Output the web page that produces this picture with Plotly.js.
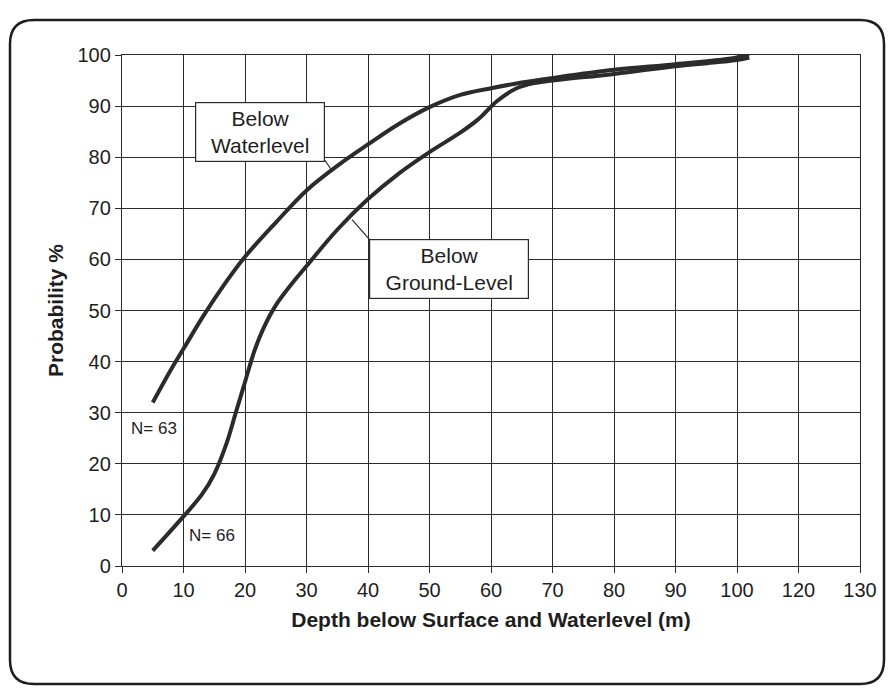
<!DOCTYPE html>
<html>
<head>
<meta charset="utf-8">
<script src="https://cdn.plot.ly/plotly-3.0.1.min.js"></script>
<style>html,body{margin:0;padding:0;background:#fff;}#chart{width:888px;height:690px;}</style>
</head>
<body>
<div id="chart"></div>
<script>
// Data
const waterX = [5, 8, 10, 13, 16, 20, 25, 30, 35, 40, 45, 50, 55, 60, 65, 70, 80, 90, 100, 102];
const waterY = [32, 38.5, 42.5, 48.5, 54, 60.5, 67.2, 73.5, 78.3, 82.5, 86.5, 89.8, 92.2, 93.5, 94.6, 95.5, 97.1, 98.2, 99.5, 100.3];
const groundX = [5, 10, 13, 15, 17, 18.5, 20, 21.5, 23, 25, 28, 30, 35, 40, 45, 50, 55, 58, 61, 64, 67, 70, 80, 90, 100, 102];
const groundY = [3, 9.7, 14, 18, 24, 30, 36, 42, 46.5, 51, 55.8, 58.7, 65.8, 71.8, 76.8, 81, 84.8, 87.5, 91, 93.4, 94.5, 95, 96.3, 97.8, 99, 99.5];
const xTickVals = [0, 10, 20, 30, 40, 50, 60, 70, 80, 90, 100, 110, 120];
const xTickText = ['0', '10', '20', '30', '40', '50', '60', '70', '80', '90', '100', '120', '130'];
const yTickVals = [0, 10, 20, 30, 40, 50, 60, 70, 80, 90, 100];
const seriesNames = ['Below Waterlevel', 'Below Ground-Level'];
const countLabels = ['N= 63', 'N= 66'];

const W = 888, H = 690;
const M = {l: 122, r: 28, t: 55, b: 124};
const pw = W - M.l - M.r, ph = H - M.t - M.b;
function px(x) { return (x - M.l) / pw; }
function py(y) { return (H - M.b - y) / ph; }
function roundRect(x0, y0, x1, y1, r) {
  const rx = r / pw, ry = r / ph;
  const X0 = px(x0), X1 = px(x1), Y0 = py(y0), Y1 = py(y1);
  return 'M' + (X0 + rx) + ',' + Y0 +
    ' L' + (X1 - rx) + ',' + Y0 + ' Q' + X1 + ',' + Y0 + ' ' + X1 + ',' + (Y0 - ry) +
    ' L' + X1 + ',' + (Y1 + ry) + ' Q' + X1 + ',' + Y1 + ' ' + (X1 - rx) + ',' + Y1 +
    ' L' + (X0 + rx) + ',' + Y1 + ' Q' + X0 + ',' + Y1 + ' ' + X0 + ',' + (Y1 + ry) +
    ' L' + X0 + ',' + (Y0 - ry) + ' Q' + X0 + ',' + Y0 + ' ' + (X0 + rx) + ',' + Y0 + ' Z';
}

const lineStyle = {color: '#2b2b2b', width: 4, shape: 'spline', smoothing: 1};
const traces = [
  {x: waterX, y: waterY, name: seriesNames[0], type: 'scatter', mode: 'lines', line: lineStyle},
  {x: groundX, y: groundY, name: seriesNames[1], type: 'scatter', mode: 'lines', line: lineStyle}
];

const font = 'Arial, "Liberation Sans", sans-serif';
const layout = {
  width: W, height: H,
  margin: M,
  paper_bgcolor: '#fff', plot_bgcolor: '#fff',
  showlegend: false,
  font: {family: font, color: '#1e1e1e'},
  xaxis: {
    range: [0, 120], tickvals: xTickVals, ticktext: xTickText,
    showgrid: true, gridcolor: '#2a2a2a', gridwidth: 1,
    showline: true, linecolor: '#2a2a2a', linewidth: 1.2, mirror: true,
    ticks: 'outside', ticklen: 6, tickcolor: '#2a2a2a',
    tickfont: {size: 20, family: font, color: '#1e1e1e'},
    zeroline: false,
    title: {text: 'Depth below Surface and Waterlevel (m)', font: {size: 21, family: font, weight: 'bold', color: '#1e1e1e'}, standoff: 12}
  },
  yaxis: {
    range: [0, 100], tickvals: yTickVals,
    showgrid: true, gridcolor: '#2a2a2a', gridwidth: 1,
    showline: true, linecolor: '#2a2a2a', linewidth: 1.2, mirror: true,
    ticks: 'outside', ticklen: 6, tickcolor: '#2a2a2a',
    tickfont: {size: 20, family: font, color: '#1e1e1e'},
    zeroline: false,
    title: {text: 'Probability %', font: {size: 21, family: font, weight: 'bold', color: '#1e1e1e'}, standoff: 8}
  },
  shapes: [
    {type: 'path', xref: 'paper', yref: 'paper', path: roundRect(10, 20, 884, 684, 24), line: {color: '#1e1e1e', width: 2.5}},
    {type: 'line', xref: 'x', yref: 'y', x0: 33.0, y0: 79.4, x1: 34.0, y1: 77.6, line: {color: '#2a2a2a', width: 1.2}},
    {type: 'line', xref: 'x', yref: 'y', x0: 40.3, y0: 63.8, x1: 37.4, y1: 67.8, line: {color: '#2a2a2a', width: 1.2}}
  ],
  annotations: [
    {x: 22.4, y: 84.9, xref: 'x', yref: 'y', text: 'Below<br>Waterlevel', showarrow: false,
     font: {size: 21, family: font, color: '#1e1e1e'}, bgcolor: '#fff', bordercolor: '#2a2a2a', borderwidth: 1.2,
     width: 126, height: 56, align: 'center'},
    {x: 53.2, y: 58.1, xref: 'x', yref: 'y', text: 'Below<br>Ground-Level', showarrow: false,
     font: {size: 21, family: font, color: '#1e1e1e'}, bgcolor: '#fff', bordercolor: '#2a2a2a', borderwidth: 1.2,
     width: 156, height: 56, align: 'center'},
    {x: 1.2, y: 26.9, xref: 'x', yref: 'y', text: countLabels[0], showarrow: false, xanchor: 'left',
     font: {size: 17, family: font, color: '#1e1e1e'}, bgcolor: '#fff'},
    {x: 10.6, y: 6.0, xref: 'x', yref: 'y', text: countLabels[1], showarrow: false, xanchor: 'left',
     font: {size: 17, family: font, color: '#1e1e1e'}, bgcolor: '#fff'}
  ]
};

Plotly.newPlot('chart', traces, layout, {displayModeBar: false, staticPlot: true});
</script>
</body>
</html>
